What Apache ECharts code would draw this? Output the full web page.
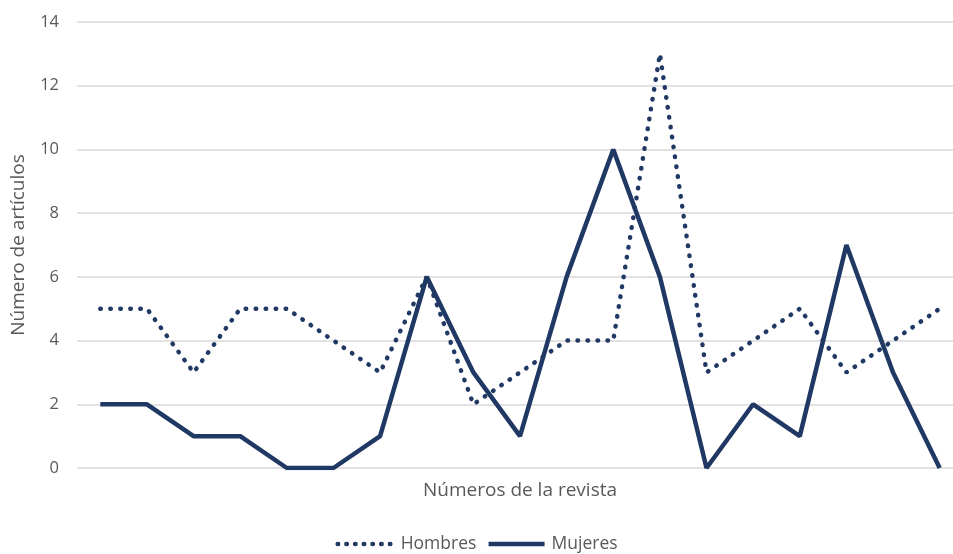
<!DOCTYPE html>
<html><head><meta charset="utf-8">
<script src="https://cdn.jsdelivr.net/npm/echarts@6/dist/echarts.min.js"></script>
<style>html,body{margin:0;padding:0;background:#fff}#c{width:953px;height:554px}</style>
</head><body><div id="c"></div>
<script>
const categories = ['1','2','3','4','5','6','7','8','9','10','11','12','13','14','15','16','17','18','19'];
const hombres = [5,5,3,5,5,4,3,6,2,3,4,4,13,3,4,5,3,4,5];
const mujeres = [2,2,1,1,0,0,1,6,3,1,6,10,6,0,2,1,7,3,0];
const yTicks = {min:0, max:14, interval:2};
const font = '"Open Sans", Lato, sans-serif';
const chart = echarts.init(document.getElementById('c'));
chart.setOption({
  animation:false,
  grid:{left:77, top:22, width:886, bottom:86, outerBoundsMode:'none', containLabel:false},
  legend:{
    bottom:-4, left:'center', itemGap:10, itemWidth:56, itemHeight:10,
    textStyle:{color:'#595959', fontSize:17.5, fontFamily:font, padding:[0,0,0,2]},
    itemStyle:{opacity:0},
    data:[
      {name:'Hombres', lineStyle:{width:4.5, type:[0.5,8.2], cap:'round'}},
      {name:'Mujeres', lineStyle:{width:4.5}}
    ]
  },
  xAxis:{
    type:'category', data:categories, boundaryGap:true,
    name:'Números de la revista', nameLocation:'middle', nameGap:13,
    nameTextStyle:{color:'#595959', fontSize:19, fontFamily:font},
    axisLine:{show:false}, axisTick:{show:false}, axisLabel:{show:false}
  },
  yAxis:{
    type:'value', min:yTicks.min, max:yTicks.max, interval:yTicks.interval,
    name:'Número de artículos', nameLocation:'middle', nameGap:49,
    nameTextStyle:{color:'#595959', fontSize:19, fontFamily:font},
    axisLabel:{color:'#595959', fontSize:16.5, fontFamily:font, margin:18},
    splitLine:{lineStyle:{color:'#d9d9d9', width:1.5}},
    axisLine:{show:false}, axisTick:{show:false}
  },
  series:[
    {name:'Hombres', type:'line', data:hombres, symbol:'none',
     lineStyle:{color:'#203864', width:4.5, type:[0.5,9.5], cap:'round'},
     itemStyle:{color:'#203864'}},
    {name:'Mujeres', type:'line', data:mujeres, symbol:'none',
     lineStyle:{color:'#203864', width:4.5},
     itemStyle:{color:'#203864'}}
  ]
});
</script></body></html>
